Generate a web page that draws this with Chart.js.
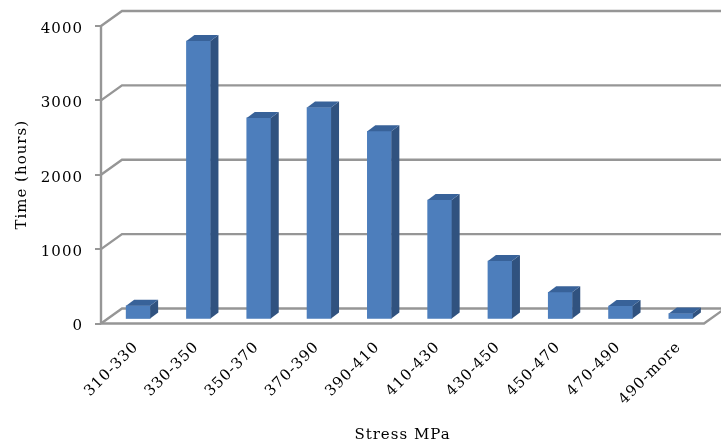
<!DOCTYPE html>
<html>
<head>
<meta charset="utf-8">
<style>
  html, body { margin: 0; padding: 0; background: #fff; }
  canvas { display: block; }
</style>
<script src="https://cdn.jsdelivr.net/npm/chart.js@4"></script>
</head>
<body>
<canvas id="stress-chart" width="721" height="446"></canvas>
<script>
const stressRanges = ["310-330","330-350","350-370","370-390","390-410","410-430","430-450","450-470","470-490","490-more"];
const hours = [185, 3745, 2710, 2850, 2530, 1606, 785, 365, 180, 80];
const yTicks = [0, 1000, 2000, 3000, 4000];

const gridColor = "#969696";
const frontColor = "#4d7ebc";
const sideColor = "#30527f";
const topColor = "#386299";
const serif = "'DejaVu Serif', serif";

// wall depth and how far the bars sit inside the box
const wallDx = 21, wallDy = 15;
const barDx = 7, barDy = 4;
const faceDx = 8, faceDy = 6;

const box3d = {
  id: "box3d",
  beforeDraw(chart){
    // wider text, all labels share it
    chart.ctx.letterSpacing = "1px";
  },
  beforeDatasetsDraw(chart){
    const {ctx, scales:{x, y}, chartArea:a} = chart;
    ctx.save();
    ctx.strokeStyle = gridColor;
    ctx.lineWidth = 2.4;
    yTicks.forEach(v=>{
      const py = y.getPixelForValue(v);
      ctx.beginPath();
      ctx.moveTo(a.left, py);
      ctx.lineTo(a.left+wallDx, py-wallDy);
      ctx.lineTo(a.right+wallDx, py-wallDy);
      ctx.stroke();
    });
    // floor edges and left edge
    const base = y.getPixelForValue(0);
    ctx.beginPath();
    ctx.moveTo(a.left, y.getPixelForValue(4000));
    ctx.lineTo(a.left, base);
    ctx.lineTo(a.right, base);
    ctx.lineTo(a.right+wallDx, base-wallDy);
    ctx.stroke();
    ctx.restore();
    // bars are drawn a little behind the front edge
    ctx.save();
    ctx.translate(barDx, -barDy);
  },
  afterDatasetsDraw(chart){
    const {ctx} = chart;
    chart.getDatasetMeta(0).data.forEach(bar=>{
      const p = bar.getProps(["x","y","base","width"], true);
      const l = p.x-p.width/2, r = p.x+p.width/2;
      ctx.fillStyle = sideColor;
      ctx.beginPath();
      ctx.moveTo(r, p.y);
      ctx.lineTo(r+faceDx, p.y-faceDy);
      ctx.lineTo(r+faceDx, p.base-faceDy);
      ctx.lineTo(r, p.base);
      ctx.closePath();
      ctx.fill();
      ctx.fillStyle = topColor;
      ctx.beginPath();
      ctx.moveTo(l, p.y);
      ctx.lineTo(l+faceDx, p.y-faceDy);
      ctx.lineTo(r+faceDx, p.y-faceDy);
      ctx.lineTo(r, p.y);
      ctx.closePath();
      ctx.fill();
    });
    ctx.restore();
  }
};

new Chart(document.getElementById("stress-chart"),{
  type:"bar",
  data:{
    labels:stressRanges,
    datasets:[{data:hours, backgroundColor:frontColor, barThickness:24, clip:false}]
  },
  options:{
    responsive:false,
    animation:false,
    layout:{padding:{top:26,right:17,bottom:0,left:9}},
    plugins:{legend:{display:false}, tooltip:{enabled:false}},
    scales:{
      x:{
        afterFit(axis){ axis.height = 122.5; },
        grid:{display:false},
        border:{display:false},
        ticks:{color:"#000", font:{family:serif,size:15}, minRotation:45, maxRotation:45, padding:7, labelOffset:5},
        title:{display:true, text:"Stress MPa", color:"#000", font:{family:serif,size:15}, padding:{top:4,bottom:2}}
      },
      y:{
        min:0, max:4000,
        afterBuildTicks(axis){ axis.ticks = yTicks.map(v=>({value:v})); },
        afterFit(axis){ axis.width = 92; },
        grid:{drawOnChartArea:false, color:gridColor, lineWidth:2, tickLength:6},
        border:{display:false},
        ticks:{color:"#000", font:{family:serif,size:15}, padding:12, labelOffset:3, callback:v=>String(v)},
        title:{display:true, text:"Time (hours)", color:"#000", font:{family:serif,size:15}}
      }
    }
  },
  plugins:[box3d]
});
</script>
</body>
</html>
